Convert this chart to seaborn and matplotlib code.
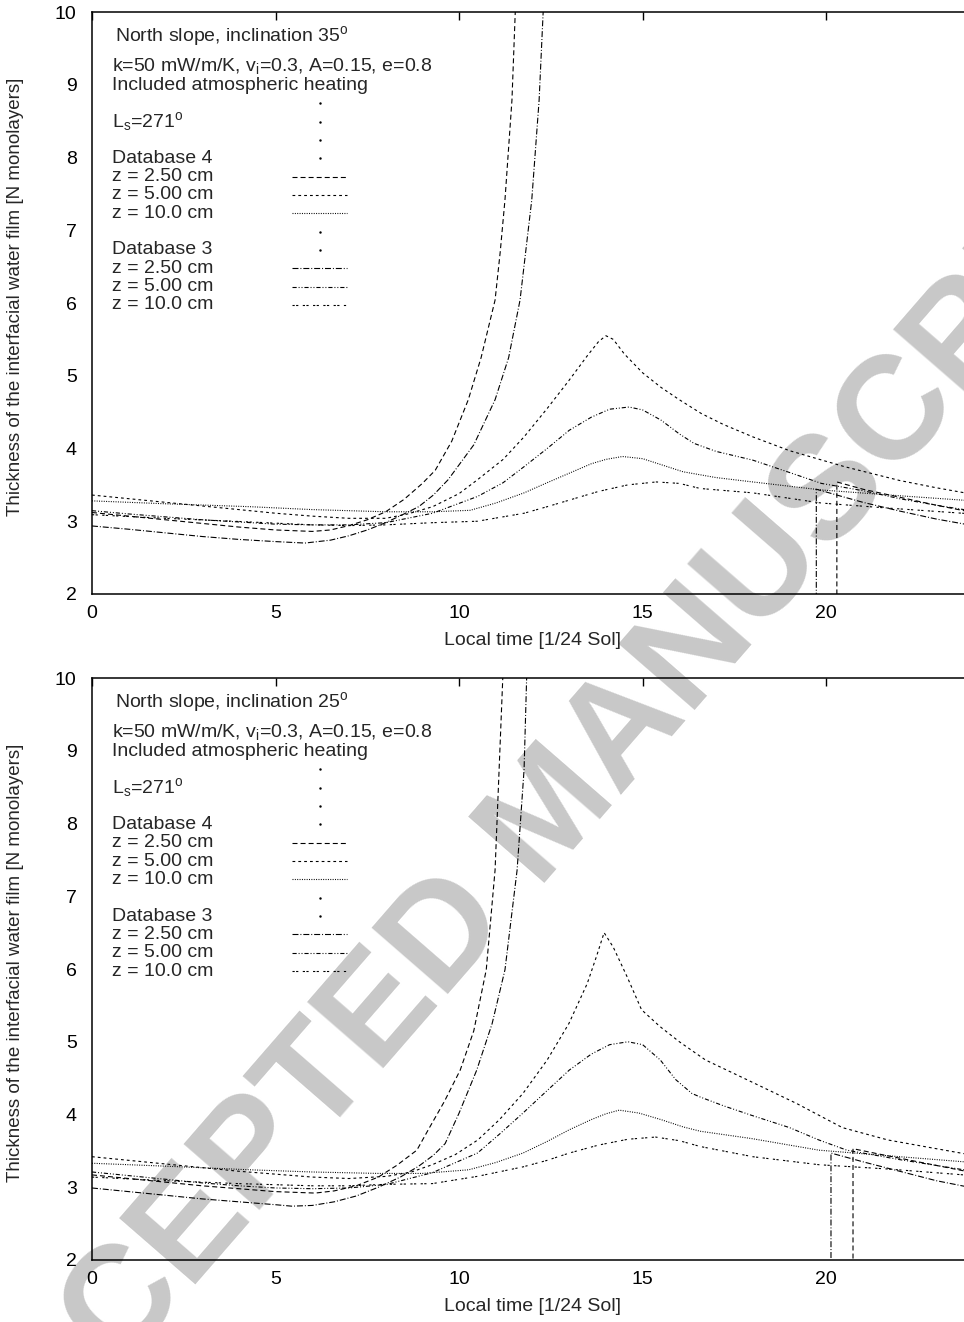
import numpy as np
import pandas as pd
import seaborn as sns
import matplotlib.pyplot as plt

# ---------------- upper panel: north slope, inclination 35 deg ----------------
# Database 4, z = 2.50 cm (runs off scale, comes back after ~20.3 h)
t35_db4_z25_a = [0, 1, 2, 3, 4, 5, 6, 6.5, 7, 7.5, 8, 8.5, 9, 9.35, 9.8, 10.25, 10.6, 10.98, 11.12, 11.25, 11.44, 11.53, 11.7]
v35_db4_z25_a = [3.12, 3.07, 3.02, 2.97, 2.92, 2.88, 2.86, 2.88, 2.94, 3.02, 3.13, 3.30, 3.52, 3.70, 4.10, 4.67, 5.25, 6.04, 6.70, 7.42, 8.79, 10.0, 14.0]
t35_db4_z25_b = [20.29, 20.29, 21, 22, 23, 24]
v35_db4_z25_b = [0.0, 3.54, 3.44, 3.33, 3.22, 3.12]
# Database 4, z = 5.00 cm
t35_db4_z50 = [0, 1, 2, 3, 4, 5, 6, 7, 8, 8.6, 9.28, 10, 10.5, 11.2, 11.77, 12.4, 13.0, 13.5, 13.8, 14.0, 14.2, 14.5, 15.0, 15.5, 16.0, 16.6, 17.2, 18.0, 19.0, 20.5, 22, 23, 24]
v35_db4_z50 = [3.36, 3.31, 3.26, 3.21, 3.16, 3.11, 3.07, 3.04, 3.04, 3.10, 3.20, 3.38, 3.57, 3.85, 4.16, 4.55, 4.94, 5.28, 5.47, 5.55, 5.50, 5.30, 5.04, 4.84, 4.67, 4.48, 4.33, 4.16, 3.97, 3.75, 3.56, 3.46, 3.37]
# Database 4, z = 10.0 cm
t35_db4_z10 = [0, 2, 4.3, 6, 8, 9.28, 10.3, 11, 11.77, 12.4, 13.0, 13.6, 14.0, 14.45, 15.0, 16.1, 17, 18, 19.87, 22, 24]
v35_db4_z10 = [3.28, 3.24, 3.20, 3.16, 3.13, 3.13, 3.15, 3.25, 3.39, 3.53, 3.66, 3.79, 3.85, 3.89, 3.86, 3.68, 3.60, 3.54, 3.43, 3.35, 3.28]
# Database 3, z = 2.50 cm (runs off scale, comes back after ~19.7 h)
t35_db3_z25_a = [0, 1, 2, 3, 4, 5, 5.8, 6.5, 7, 7.5, 8, 8.5, 8.9, 9.3, 9.7, 10.4, 10.98, 11.35, 11.66, 11.98, 12.18, 12.29, 12.45]
v35_db3_z25_a = [2.935, 2.89, 2.84, 2.79, 2.75, 2.72, 2.70, 2.74, 2.80, 2.88, 2.98, 3.10, 3.20, 3.36, 3.57, 4.05, 4.67, 5.25, 6.04, 7.42, 8.79, 10.0, 14.0]
t35_db3_z25_b = [19.73, 19.73, 20.5, 21, 22, 23, 24]
v35_db3_z25_b = [0.0, 3.44, 3.33, 3.26, 3.14, 3.03, 2.94]
# Database 3, z = 5.00 cm
t35_db3_z50 = [0, 1, 2, 3, 4, 5, 6, 7, 8, 9.28, 10.5, 11.2, 11.77, 12.4, 13.0, 13.6, 14.1, 14.63, 15.0, 15.5, 16.0, 16.4, 17.0, 18.0, 19.0, 19.87, 21, 22, 23, 24]
v35_db3_z50 = [3.145, 3.10, 3.06, 3.02, 2.99, 2.96, 2.95, 2.95, 2.98, 3.11, 3.34, 3.53, 3.75, 4.0, 4.25, 4.43, 4.54, 4.57, 4.53, 4.39, 4.20, 4.07, 3.96, 3.84, 3.67, 3.52, 3.42, 3.31, 3.22, 3.14]
# Database 3, z = 10.0 cm
t35_db3_z10 = [0, 2, 4.3, 6, 7, 8, 9.28, 10.5, 11.77, 12.4, 13.0, 13.8, 14.6, 15.37, 16, 16.57, 18, 19.87, 21.7, 24]
v35_db3_z10 = [3.09, 3.04, 2.99, 2.95, 2.94, 2.95, 2.98, 3.0, 3.11, 3.2, 3.29, 3.41, 3.50, 3.54, 3.52, 3.45, 3.39, 3.25, 3.18, 3.10]

# ---------------- lower panel: north slope, inclination 25 deg ----------------
t25_db4_z25_a = [0, 1, 2, 3, 4, 5, 6.08, 6.6, 7.2, 7.8, 8.3, 8.85, 9.16, 9.6, 10.03, 10.4, 10.74, 10.98, 11.09, 11.19, 11.3]
v25_db4_z25_a = [3.17, 3.12, 3.07, 3.02, 2.98, 2.94, 2.92, 2.95, 3.02, 3.14, 3.30, 3.51, 3.79, 4.18, 4.61, 5.15, 5.99, 7.36, 8.74, 10.0, 14.0]
t25_db4_z25_b = [20.73, 20.73, 21.5, 22.5, 23.5, 24]
v25_db4_z25_b = [0.0, 3.53, 3.45, 3.35, 3.25, 3.20]
t25_db4_z50 = [0, 1, 2, 3, 4, 5, 6, 7, 8.03, 8.7, 9.27, 9.9, 10.51, 11.1, 11.74, 12.4, 12.99, 13.49, 13.74, 13.95, 14.2, 14.58, 14.97, 15.47, 16.0, 16.71, 17.96, 19.2, 20.44, 21.68, 23.0, 24]
v25_db4_z50 = [3.42, 3.37, 3.32, 3.27, 3.22, 3.18, 3.14, 3.12, 3.15, 3.21, 3.31, 3.45, 3.65, 3.93, 4.29, 4.75, 5.25, 5.80, 6.17, 6.50, 6.30, 5.89, 5.44, 5.21, 5.00, 4.75, 4.45, 4.15, 3.82, 3.65, 3.53, 3.44]
t25_db4_z10 = [0, 2, 4.3, 6, 7.8, 9, 10.26, 11, 11.74, 12.4, 13.0, 13.6, 14.0, 14.36, 14.9, 15.5, 16.1, 16.57, 17.96, 19.8, 22, 24]
v25_db4_z10 = [3.33, 3.29, 3.24, 3.21, 3.19, 3.19, 3.24, 3.34, 3.47, 3.63, 3.79, 3.93, 4.01, 4.06, 4.02, 3.93, 3.83, 3.77, 3.67, 3.51, 3.42, 3.34]
t25_db3_z25_a = [0, 1, 2, 3, 4, 5, 5.44, 6, 6.6, 7.2, 7.8, 8.4, 8.9, 9.3, 9.62, 10.0, 10.48, 10.9, 11.25, 11.58, 11.77, 11.84, 11.95]
v25_db3_z25_a = [2.99, 2.94, 2.89, 2.84, 2.80, 2.76, 2.74, 2.75, 2.80, 2.88, 3.0, 3.14, 3.29, 3.44, 3.60, 4.02, 4.61, 5.25, 5.99, 7.36, 8.74, 10.0, 14.0]
t25_db3_z25_b = [20.13, 20.13, 21, 22, 23, 24]
v25_db3_z25_b = [0.0, 3.47, 3.35, 3.22, 3.09, 2.99]
t25_db3_z50 = [0, 1, 2, 3, 4, 5, 6, 7, 8.03, 9.27, 10.5, 11.1, 11.74, 12.4, 13.0, 13.6, 14.1, 14.6, 15.0, 15.48, 15.9, 16.34, 16.57, 17.2, 17.96, 19.0, 19.8, 20.56, 22, 23, 24]
v25_db3_z50 = [3.21, 3.16, 3.11, 3.06, 3.02, 2.99, 2.98, 2.99, 3.04, 3.20, 3.47, 3.73, 4.02, 4.33, 4.61, 4.83, 4.96, 5.0, 4.96, 4.75, 4.48, 4.29, 4.24, 4.12, 3.99, 3.82, 3.65, 3.51, 3.38, 3.30, 3.22]
t25_db3_z10 = [0, 2, 4, 6, 7, 8.0, 9.27, 10.5, 11.74, 12.4, 13.0, 13.8, 14.6, 15.35, 16, 16.57, 18, 19.8, 21.7, 24]
v25_db3_z10 = [3.14, 3.09, 3.05, 3.02, 3.02, 3.04, 3.05, 3.15, 3.28, 3.37, 3.47, 3.58, 3.66, 3.69, 3.64, 3.56, 3.42, 3.31, 3.25, 3.16]

yticks = [2, 3, 4, 5, 6, 7, 8, 9, 10]
xticks = [0, 5, 10, 15, 20]
depth_labels = ['z = 2.50 cm', 'z = 5.00 cm', 'z = 10.0 cm']

sns.set_theme(style='white')
plt.rcParams['font.family'] = ['Liberation Sans', 'DejaVu Sans']
plt.rcParams['mathtext.fontset'] = 'custom'
plt.rcParams['mathtext.rm'] = 'Liberation Sans'
plt.rcParams['mathtext.it'] = 'Liberation Sans:italic'
plt.rcParams['mathtext.bf'] = 'Liberation Sans:bold'
plt.rcParams['lines.scale_dashes'] = False

# gnuplot-like line types (dash lengths in points)
dash_map = {
    'db4_z25': (3.6, 2.2),
    'db4_z50': (2.0, 2.2),
    'db4_z10': (0.7, 1.0),
    'db3_z25': (4.3, 1.4, 0.7, 1.4),
    'db3_z50': (3.0, 1.4, 0.7, 1.4, 0.7, 1.4),
    'db3_z10': (1.6, 1.0, 1.6, 3.2),
}


def panel_frame(curves):
    parts = []
    for name, segs in curves.items():
        for k, (t, v) in enumerate(segs):
            parts.append(pd.DataFrame({'t': t, 'v': v, 'series': name, 'seg': k}))
    return pd.concat(parts, ignore_index=True)


df35 = panel_frame({
    'db4_z25': [(t35_db4_z25_a, v35_db4_z25_a), (t35_db4_z25_b, v35_db4_z25_b)],
    'db4_z50': [(t35_db4_z50, v35_db4_z50)],
    'db4_z10': [(t35_db4_z10, v35_db4_z10)],
    'db3_z25': [(t35_db3_z25_a, v35_db3_z25_a), (t35_db3_z25_b, v35_db3_z25_b)],
    'db3_z50': [(t35_db3_z50, v35_db3_z50)],
    'db3_z10': [(t35_db3_z10, v35_db3_z10)],
})
df25 = panel_frame({
    'db4_z25': [(t25_db4_z25_a, v25_db4_z25_a), (t25_db4_z25_b, v25_db4_z25_b)],
    'db4_z50': [(t25_db4_z50, v25_db4_z50)],
    'db4_z10': [(t25_db4_z10, v25_db4_z10)],
    'db3_z25': [(t25_db3_z25_a, v25_db3_z25_a), (t25_db3_z25_b, v25_db3_z25_b)],
    'db3_z50': [(t25_db3_z50, v25_db3_z50)],
    'db3_z10': [(t25_db3_z10, v25_db3_z10)],
})

fig = plt.figure(figsize=(9.64, 13.22), dpi=100)
ax_top = fig.add_axes([0.0954, 0.5507, 0.914, 0.4402])
ax_bot = fig.add_axes([0.0954, 0.0469, 0.914, 0.4402])

# watermark behind everything
fig.text(0.574, 0.383, 'ACCEPTED MANUSCRIPT', rotation=49, ha='center', va='center',
         fontsize=106, fontweight='bold', color='#c8c8c8', zorder=-1)

fs = 14
row_h = 0.0315
for ax, df, incl in [(ax_top, df35, 35), (ax_bot, df25, 25)]:
    ax.set_facecolor('none')
    sns.lineplot(data=df, x='t', y='v', style='series', units='seg', estimator=None,
                 sort=False, dashes=dash_map, color='black', lw=0.8, legend=False, ax=ax)
    ax.set_xlim(0, 24)
    ax.set_ylim(2, 10)
    ax.set_xticks(xticks)
    ax.set_yticks(yticks)
    ax.tick_params(direction='in', length=6, width=1, top=True, right=True,
                   labelsize=fs, colors='black')
    ax.tick_params(axis='y', pad=11)
    ax.tick_params(axis='x', pad=8)
    for s in ax.spines.values():
        s.set_color('black')
        s.set_linewidth(1.1)
    ax.set_xlabel('Local time [1/24 Sol]', fontsize=fs)
    ax.set_ylabel('Thickness of the interfacial water film [N monolayers]', fontsize=13.5)
    ax.xaxis.set_label_coords(0.5, -0.066)
    ax.yaxis.set_label_coords(-0.077, 0.51)

    # key, drawn in the gnuplot fashion
    ax.text(0.026, 0.9588, r'North slope, inclination %d$^\mathrm{o}$' % incl,
            transform=ax.transAxes, fontsize=fs, va='center')
    ax.text(0.0227, 0.9072, r'k=50 mW/m/K, v$_\mathrm{i}$=0.3, A=0.15, e=0.8',
            transform=ax.transAxes, fontsize=fs, va='center')
    y0 = 0.8746
    rows = ['Included atmospheric heating', '', r'L$_\mathrm{s}$=271$^\mathrm{o}$', '',
            'Database 4'] + depth_labels + ['', 'Database 3'] + depth_labels
    samples = [None, 'dot', 'dot', 'dot', 'dot', 'db4_z25', 'db4_z50', 'db4_z10',
               'dot', 'dot', 'db3_z25', 'db3_z50', 'db3_z10']
    for i, (lab, smp) in enumerate(zip(rows, samples)):
        y = y0 - i * row_h
        if lab:
            ax.text(0.0227, y, lab, transform=ax.transAxes, fontsize=fs, va='center')
        if smp == 'dot':
            ax.plot([0.259], [y], marker='.', ms=1.5, color='black', transform=ax.transAxes)
        elif smp is not None:
            ax.plot([0.227, 0.289], [y, y], color='black', lw=0.8, dashes=dash_map[smp],
                    transform=ax.transAxes)

fig.savefig('out.png', dpi=100)
